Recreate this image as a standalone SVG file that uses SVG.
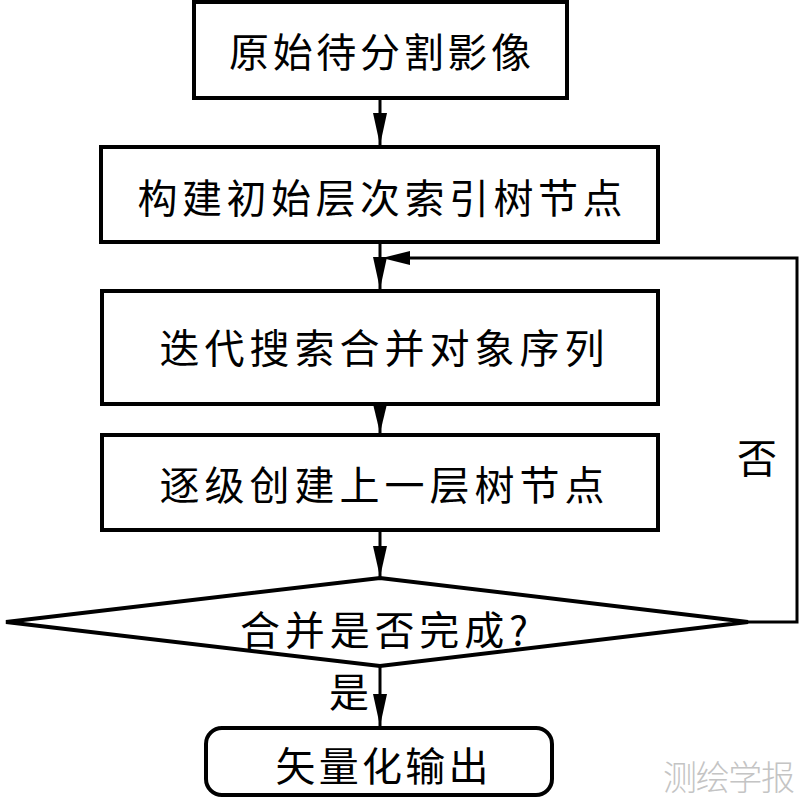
<svg xmlns="http://www.w3.org/2000/svg" width="800" height="807" viewBox="0 0 800 807">
<style>
.box{fill:#fff;stroke:#000;stroke-width:4}
.t{font-family:"Noto Sans CJK SC","Liberation Serif",serif;font-size:40px;fill:#000;text-anchor:middle;dominant-baseline:central}
.c{fill:none;stroke:#000;stroke-width:3}
.wm{font-family:"Noto Sans CJK SC",sans-serif;font-size:34px;font-weight:300;fill:#c4c4c4}
</style>
<rect width="800" height="807" fill="#fff"/>
<g id="connectors">
<line class="c" x1="380" y1="100" x2="380" y2="145"/>
<polygon points="373,113 387,113 380,145" fill="#000"/>
<line class="c" x1="380" y1="244" x2="380" y2="289"/>
<polygon points="373,257 387,257 380,289" fill="#000"/>
<line class="c" x1="380" y1="406" x2="380" y2="433"/>
<polygon points="373,404 387,404 380,433" fill="#000"/>
<line class="c" x1="380" y1="532" x2="380" y2="577"/>
<polygon points="373,546 387,546 380,577" fill="#000"/>
<line class="c" x1="380" y1="667" x2="380" y2="726"/>
<polygon points="373,694 387,694 380,726" fill="#000"/>
<polyline class="c" points="748,622 797,622 797,258 390,258"/>
<polygon points="410,251 410,265 382,258" fill="#000"/>
</g>
<g id="n1"><rect class="box" x="194" y="2" width="373" height="96"/><text class="t" x="380" y="50" textLength="302" lengthAdjust="spacing">原始待分割影像</text></g>
<g id="n2"><rect class="box" x="101" y="147" width="557" height="95"/><text class="t" x="380" y="196" textLength="485" lengthAdjust="spacing">构建初始层次索引树节点</text></g>
<g id="n3"><rect class="box" x="102" y="291" width="556" height="113"/><text class="t" x="382" y="346" textLength="445" lengthAdjust="spacing">迭代搜索合并对象序列</text></g>
<g id="n4"><rect class="box" x="102" y="435" width="556" height="95"/><text class="t" x="382" y="483" textLength="445" lengthAdjust="spacing">逐级创建上一层树节点</text></g>
<g id="n5"><polygon class="box" points="6,622 380,578 748,622 380,666"/><text class="t" x="384" y="628" textLength="288" lengthAdjust="spacing">合并是否完成?</text></g>
<g id="n6"><rect class="box" x="206" y="728" width="346" height="67" rx="16"/><text class="t" x="382" y="764" textLength="213" lengthAdjust="spacing">矢量化输出</text></g>
<text class="t" x="757" y="456">否</text>
<text class="t" x="349" y="690">是</text>
<text class="wm" x="663" y="790" textLength="132">测绘学报</text>
</svg>
